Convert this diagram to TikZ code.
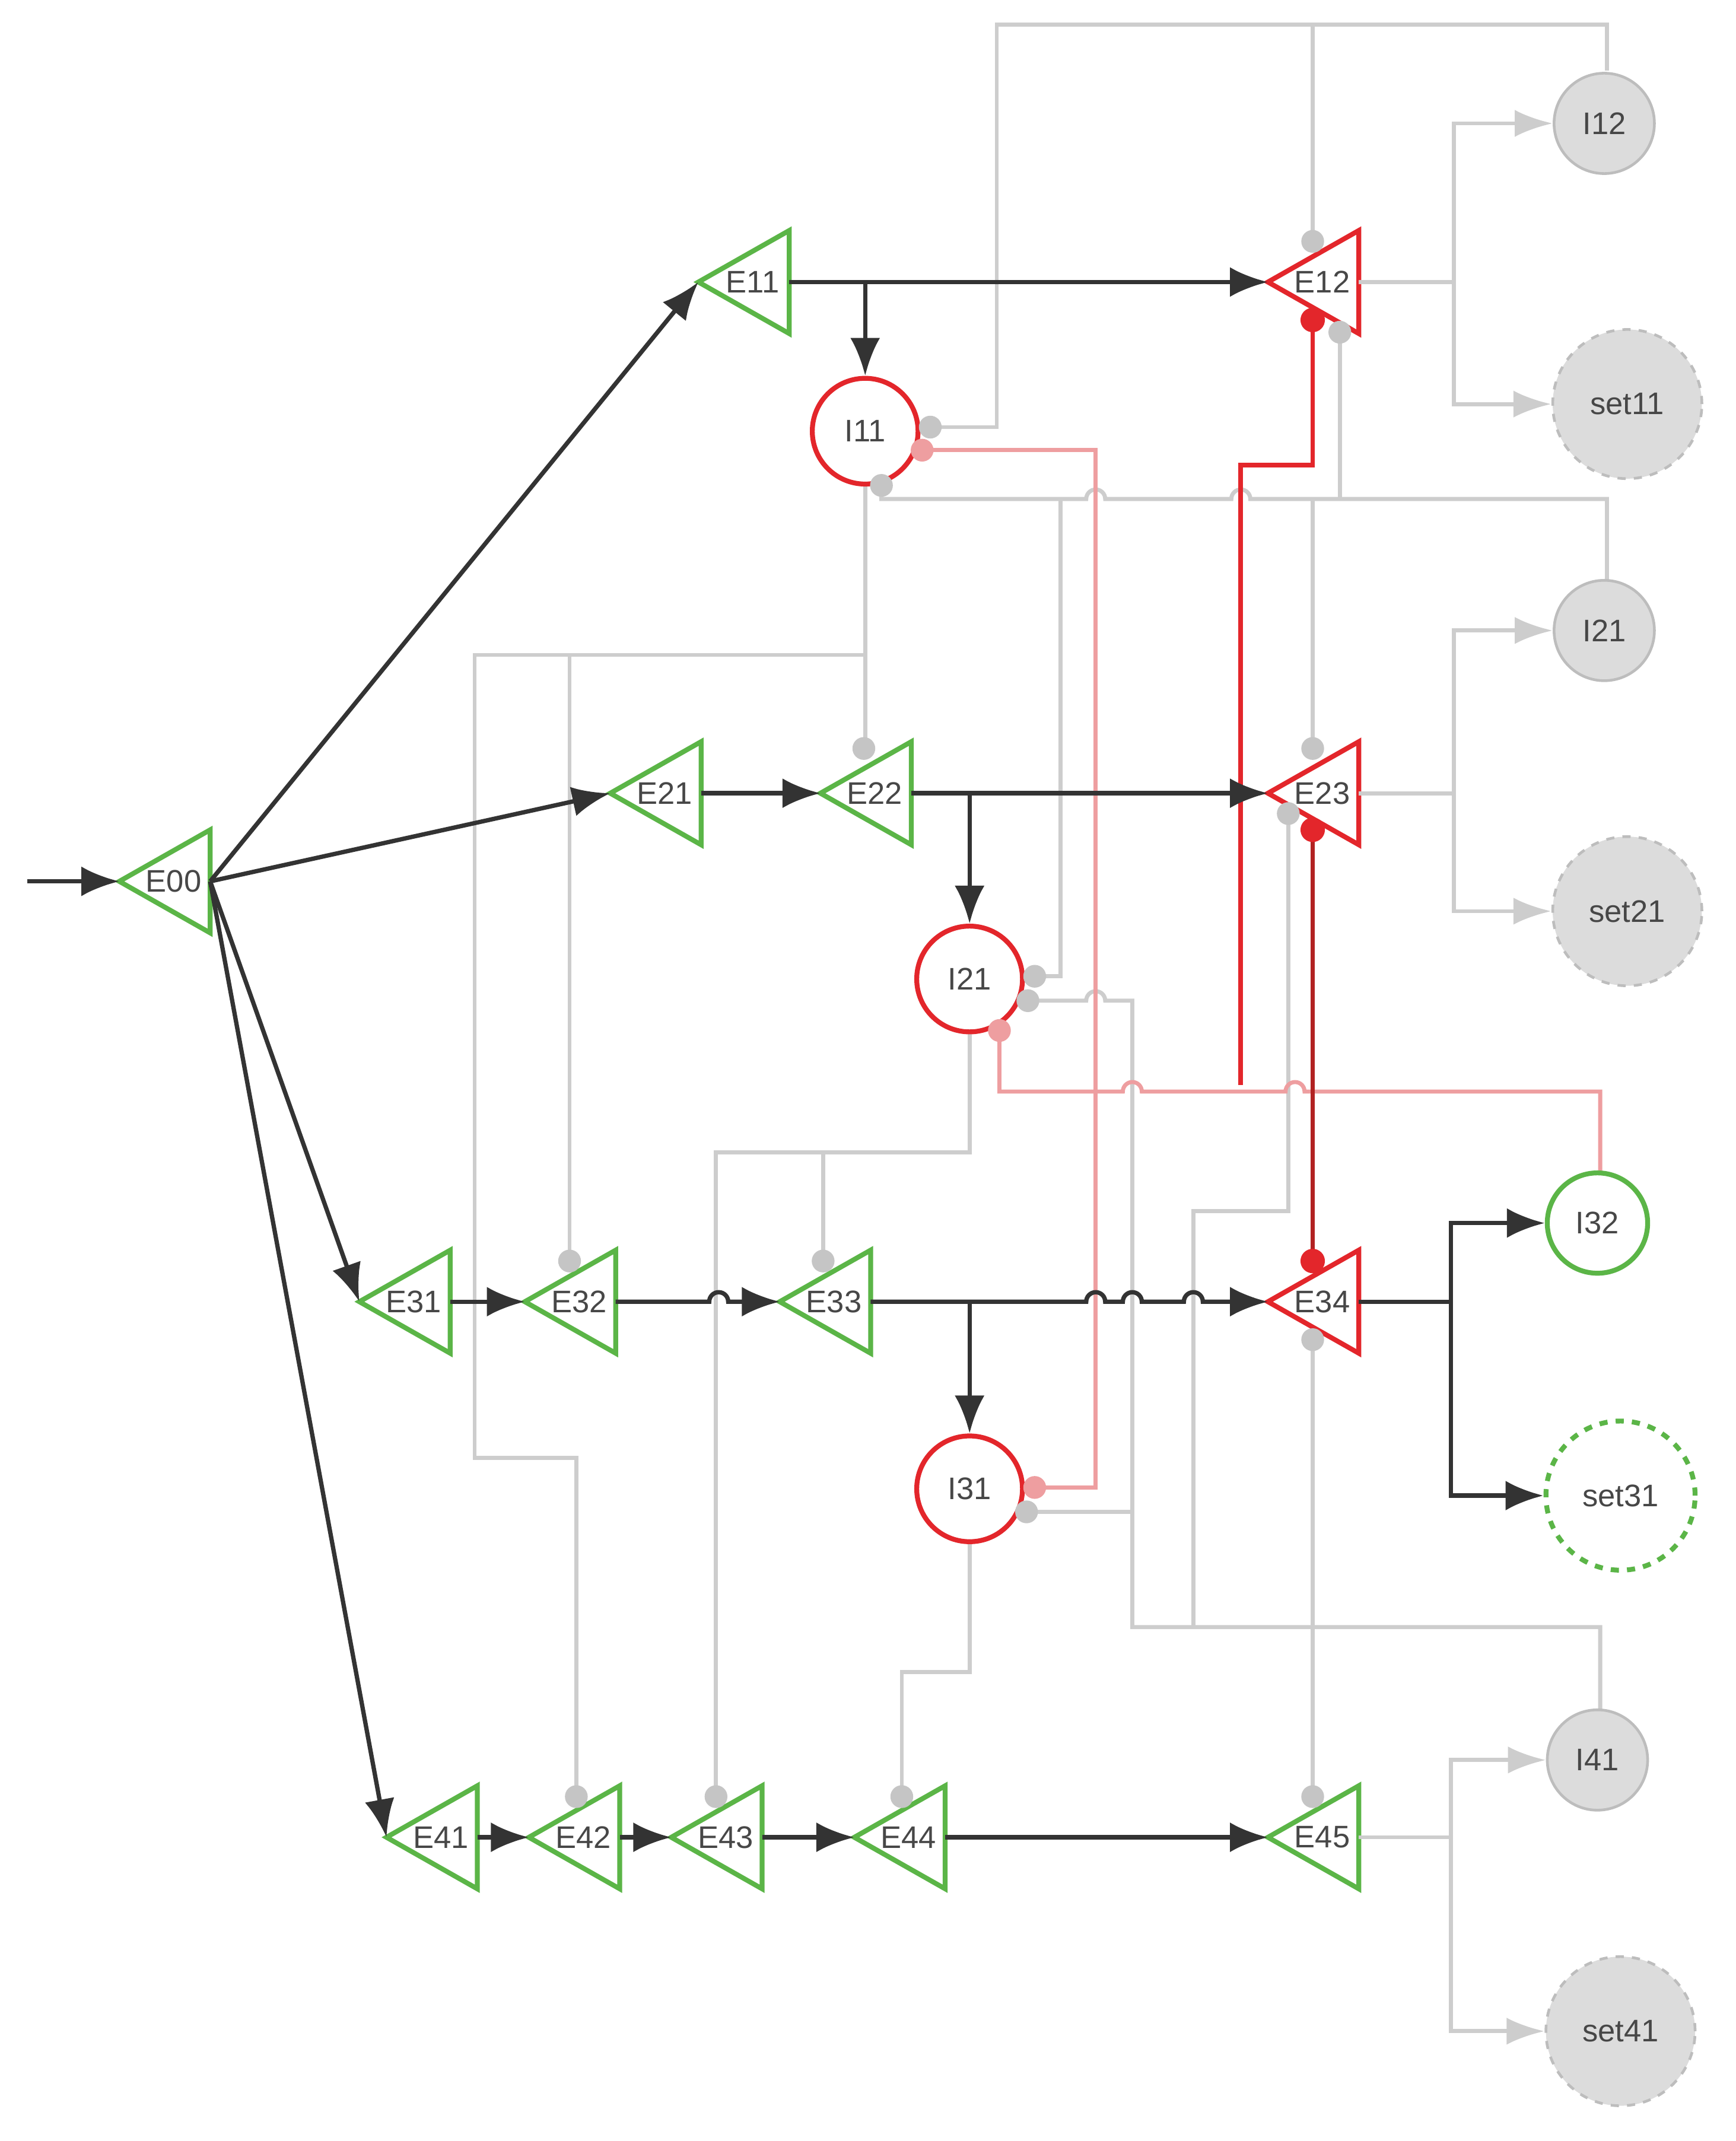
\documentclass[tikz,border=0pt]{standalone}
\usepackage{fontspec}
\setmainfont{Liberation Sans}
\usetikzlibrary{arrows.meta,calc}
\definecolor{grn}{HTML}{5BB547}
\definecolor{rd}{HTML}{E3262B}
\definecolor{drd}{HTML}{B22222}
\definecolor{lg}{HTML}{CDCDCD}
\definecolor{pk}{HTML}{EE9EA0}
\definecolor{blk}{HTML}{333333}
\begin{document}
\begin{tikzpicture}[x=0.5pt,y=-0.5pt,
 tri/.style={line width=1.8pt,fill=white,line join=miter},
 lbl/.style={inner sep=0pt,font=\fontsize{11.5}{12}\selectfont,text=blk!90},
 blk/.style={draw=blk,line width=1.6pt,-{Latex[length=14pt,width=11pt]}},
 bl/.style={draw=blk,line width=1.6pt},
 gl/.style={draw=lg,line width=1.5pt},
 ga/.style={draw=lg,line width=1.5pt,-{Latex[length=14pt,width=10pt,fill=lg]}},
 pl/.style={draw=pk,line width=1.5pt},
 gdot/.style={fill=lg!90!gray},
 pdot/.style={fill=pk},
 rdot/.style={fill=rd},
 redc/.style={circle,draw=rd,line width=1.8pt,fill=white,minimum size=39pt,inner sep=0pt,font=\fontsize{11.5}{12}\selectfont,text=blk!90},
 grayc/.style={circle,draw=lg!80!gray,line width=1pt,fill=lg!70,minimum size=37pt,inner sep=0pt,font=\fontsize{11.5}{12}\selectfont,text=blk!90},
 grays/.style={grayc,dashed,minimum size=55pt},
 grnc/.style={circle,draw=grn,line width=1.8pt,fill=white,minimum size=37pt,inner sep=0pt,font=\fontsize{11.5}{12}\selectfont,text=blk!90},
 grns/.style={grnc,dashed,minimum size=55pt}]
\useasboundingbox (0,0) rectangle (1280,1579);
\newcommand\tri[5]{%
 \coordinate (#1t) at (#2,#3);
 \coordinate (#1r) at (#2+67,#3);
 \draw[tri,draw=#4] (#2,#3) -- (#2+67,#3-38) -- (#2+67,#3+38) -- cycle;
 \node[lbl] (#1) at (#2+40,#3) {#5};}
% --- gray / pink wiring (behind) ---
\draw[gl] (1185,52) -- (1185,18) -- (735,18) -- (735,315) -- (686,315);
\draw[gl] (968,18) -- (968,178);
\draw[gl] (650,360) -- (650,368) -- (801,368) arc[start angle=180,end angle=0,radius=3.5pt] -- (908,368) arc[start angle=180,end angle=0,radius=3.5pt] -- (1185,368) -- (1185,428);
\draw[gl] (988,245) -- (988,368);
\draw[gl] (968,368) -- (968,552);
\draw[gl] (638,357) -- (638,552);
\draw[gl] (638,483) -- (350,483) -- (350,1075) -- (425,1075) -- (425,1325);
\draw[gl] (420,483) -- (420,930);
\draw[gl] (763,720) -- (782,720) -- (782,368);
\draw[gl] (758,738) -- (801,738) arc[start angle=180,end angle=0,radius=3.5pt] -- (835,738) -- (835,1200) -- (1180,1200) -- (1180,1262);
\draw[gl] (950,600) -- (950,893) -- (880,893) -- (880,1200);
\draw[gl] (715,760) -- (715,850) -- (528,850) -- (528,1325);
\draw[gl] (607,850) -- (607,930);
\draw[gl] (757,1115) -- (835,1115);
\draw[gl] (715,1137) -- (715,1233) -- (665,1233) -- (665,1325);
\draw[gl] (968,988) -- (968,1325);
\draw[pl] (680,332) -- (808,332) -- (808,1097) -- (763,1097);
\draw[pl] (737,760) -- (737,805) -- (828,805) arc[start angle=180,end angle=0,radius=3.5pt] -- (948,805) arc[start angle=180,end angle=0,radius=3.5pt] -- (1180,805) -- (1180,865);
\draw[draw=rd,line width=1.7pt] (968,236) -- (968,343) -- (915,343) -- (915,800);
\draw[draw=drd,line width=1.7pt] (968,612) -- (968,930);
% --- nodes ---
\tri{E00}{88}{650}{grn}{E00}
\tri{E11}{515}{208}{grn}{E11}
\tri{E12}{935}{208}{rd}{E12}
\tri{E21}{450}{585}{grn}{E21}
\tri{E22}{605}{585}{grn}{E22}
\tri{E23}{935}{585}{rd}{E23}
\tri{E31}{265}{960}{grn}{E31}
\tri{E32}{387}{960}{grn}{E32}
\tri{E33}{575}{960}{grn}{E33}
\tri{E34}{935}{960}{rd}{E34}
\tri{E41}{285}{1355}{grn}{E41}
\tri{E42}{390}{1355}{grn}{E42}
\tri{E43}{495}{1355}{grn}{E43}
\tri{E44}{630}{1355}{grn}{E44}
\tri{E45}{935}{1355}{grn}{E45}
\node[redc] (I11) at (638,318) {I11};
\node[redc] (I21) at (715,722) {I21};
\node[redc] (I31) at (715,1098) {I31};
\node[grayc] (I12) at (1183,91) {I12};
\node[grays] (set11) at (1200,298) {set11};
\node[grayc] (I21b) at (1183,465) {I21};
\node[grays] (set21) at (1200,672) {set21};
\node[grnc] (I32) at (1178,902) {I32};
\node[grns] (set31) at (1195,1103) {set31};
\node[grayc] (I41) at (1178,1298) {I41};
\node[grays] (set41) at (1195,1498) {set41};
% --- gray outputs ---
\draw[ga] (E12r) -- (1072,208) |- (I12.west);
\draw[ga] (1072,208) |- (set11.west);
\draw[ga] (E23r) -- (1072,585) |- (I21b.west);
\draw[ga] (1072,585) |- (set21.west);
\draw[ga] (E45r) -- (1070,1355) |- (I41.west);
\draw[ga] (1070,1355) |- (set41.west);
% --- black connectors ---
\coordinate (start) at (20,650);
\draw[blk] (start) -- (E00t);
\draw[blk] (E00r) -- (E11t);
\draw[blk] (E00r) -- (E21t);
\draw[blk] (E00r) -- (E31t);
\draw[blk] (E00r) -- (E41t);
\draw[blk] (E11r) -- (E12t);
\draw[blk] (I11 |- E11r) -- (I11.north);
\draw[blk] (E21r) -- (E22t);
\draw[blk] (E22r) -- (E23t);
\draw[blk] (I21 |- E22r) -- (I21.north);
\draw[blk] (E31r) -- (E32t);
\draw[blk] (E32r) -- (523,960) arc[start angle=180,end angle=0,radius=3.5pt] -- (E33t);
\draw[blk] (E33r) -- (801,960) arc[start angle=180,end angle=0,radius=3.5pt] -- (828,960) arc[start angle=180,end angle=0,radius=3.5pt] -- (873,960) arc[start angle=180,end angle=0,radius=3.5pt] -- (E34t);
\draw[blk] (I31 |- E33r) -- (I31.north);
\draw[bl] (E34r) -- (1070,960);
\draw[blk] (1070,960) |- (I32.west);
\draw[blk] (1070,960) |- (set31.west);
\draw[blk] (E41r) -- (E42t);
\draw[blk] (E42r) -- (E43t);
\draw[blk] (E43r) -- (E44t);
\draw[blk] (E44r) -- (E45t);
% --- dots ---
\foreach \p in {(686,315),(650,358),(968,178),(988,245),(968,552),(637,552),(420,930),(425,1325),(763,720),(758,738),(950,600),(528,1325),(607,930),(757,1115),(665,1325),(968,988),(968,1325)} \fill[gdot] \p circle (4.2pt);
\foreach \p in {(680,332),(737,760),(763,1097)} \fill[pdot] \p circle (4.2pt);
\foreach \p in {(968,236),(968,612),(968,930)} \fill[rdot] \p circle (4.5pt);
\end{tikzpicture}
\end{document}
